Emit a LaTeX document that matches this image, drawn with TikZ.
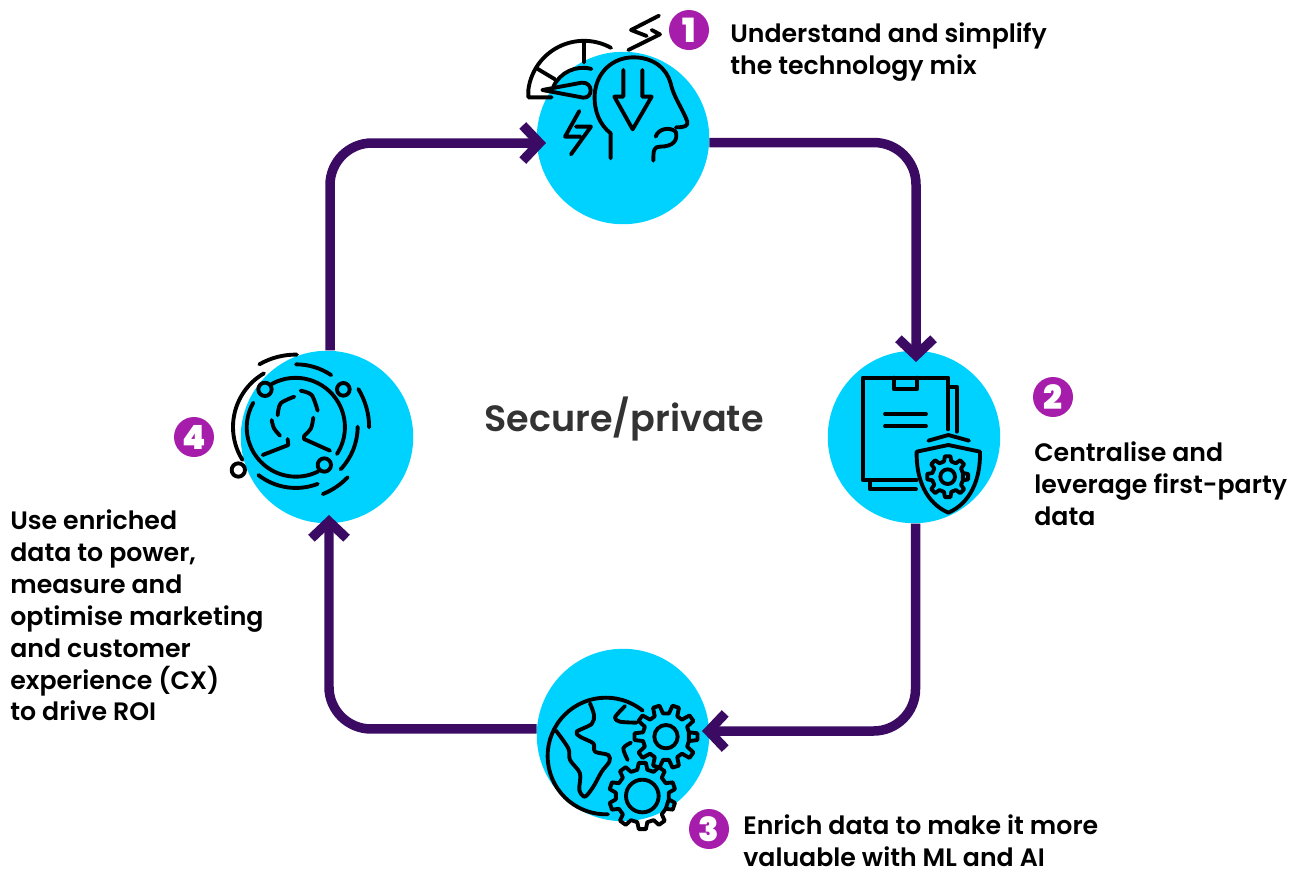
\documentclass[tikz,border=0pt]{standalone}
\usepackage{fontspec}
\setmainfont{Poppins}[UprightFont=* SemiBold]
\usetikzlibrary{arrows.meta}
\definecolor{blobcyan}{HTML}{00D2FF}
\definecolor{flowpurple}{HTML}{3B0A63}
\definecolor{badgepurple}{HTML}{A61CAB}
\tikzset{
  blob/.style={circle,fill=blobcyan,inner sep=0pt,minimum size=3.45cm},
  badge/.style={circle,fill=badgepurple,text=white,inner sep=0pt,minimum size=0.8cm,font=\fontsize{19}{19}\selectfont\bfseries},
  flowline/.style={draw=flowpurple,line width=5.4pt,rounded corners=0.84cm,-{Straight Barb[sharp,length=9.5pt,width=20pt]}},
  icon/.style={draw=black,line width=2.2pt,line cap=round,line join=round},
  tag/.style={anchor=north west,inner sep=0pt,align=left,text=black,font=\fontsize{14.35}{18.2}\selectfont},
  zoomed/.style={x=0.006667cm,y=-0.006667cm}
}
\newcommand{\gearicon}[6]{% x, y, root, tip, teeth, turn
  \pgfmathsetmacro{\gearstep}{360/#5}
  \draw[icon,shift={(#1,#2)}] ({#6-0.3*\gearstep}:#3)
    \foreach \k [evaluate=\k as \a using {#6+\k*\gearstep}] in {0,...,#5}
    {-- ({\a-0.3*\gearstep}:#3) -- ({\a-0.17*\gearstep}:#4) -- ({\a+0.17*\gearstep}:#4) -- ({\a+0.3*\gearstep}:#3)}
    -- cycle;
}
\begin{document}
\begin{tikzpicture}[x=0.02cm,y=-0.02cm]
\useasboundingbox (0,0) rectangle (1299,870);
\node[blob] (plan) at (623,138) {};
\node[blob] (store) at (914,437) {};
\node[blob] (enrich) at (623,735) {};
\node[blob] (power) at (327,437) {};
\coordinate (tipplan) at (546,143);
\coordinate (tipstore) at (916,362);
\coordinate (tipenrich) at (702,731);
\coordinate (tippower) at (329,515);
\draw[flowline] (plan.357) -| (tipstore);
\draw[flowline] (store.271.3) |- (tipenrich);
\draw[flowline] (enrich.176.7) -| (tippower);
\draw[flowline] (power.88.7) |- (tipplan);
\node[font=\fontsize{20.8}{22}\selectfont,text=black!80] (title) at (624,419) {Secure/private};
\node[badge] (one) at (689,30) {1};
\node[badge] (two) at (1053,397) {2};
\node[badge] (three) at (709,829) {3};
\node[badge] (four) at (194,437) {4};
\node[tag] (tagone) at (730,22) {Understand and simplify\\the technology mix};
\node[tag] (tagtwo) at (1034,441) {Centralise and\\leverage first-party\\data};
\node[tag] (tagthree) at (743,814) {Enrich data to make it more\\valuable with ML and AI};
\node[tag] (tagfour) at (10,509) {Use enriched\\data to power,\\measure and\\optimise marketing\\and customer\\experience (CX)\\to drive ROI};
% head and gauge
\begin{scope}[shift={(510,0)},zoomed]
\draw[icon] (447,47)--(363,90)--(410,108) (425,90)--(450,103)--(355,150);
\draw[icon] (125,292)--(55,292)--(55,270) arc[start angle=187,end angle=299,radius=168];
\draw[icon] (130,260) arc[start angle=205,end angle=285,radius=98];
\draw[icon] (222,125)--(222,187) (80,205)--(135,238);
\draw[icon] (97,270)--(215,248) .. controls (250,245) and (250,295) .. (220,293)--cycle;
\draw[icon] (208,333)--(165,410)--(212,410) (198,380)--(243,380)--(183,463);
\draw[icon] (302,475)--(302,400) .. controls (270,375) and (252,335) .. (254,285) .. controls (258,215) and (310,172) .. (370,172) .. controls (430,172) and (470,205) .. (482,250) .. controls (490,290) and (520,330) .. (532,365) .. controls (534,378) and (525,382) .. (498,382);
\draw[icon] (437,410) .. controls (445,385) and (480,380) .. (497,395) .. controls (505,420) and (490,440) .. (450,440) .. controls (432,440) and (430,450) .. (430,482);
\draw[icon] (340,210)--(340,290)--(313,290)--(368,388)--(425,290)--(397,290)--(397,210);
\end{scope}
% folder and shield
\begin{scope}[shift={(820,330)},zoomed]
\draw[icon] (385,298)--(385,143)--(128,143)--(128,450)--(290,450);
\draw[icon] (222,143)--(222,178)--(290,178)--(290,143);
\draw[icon] (195,252)--(318,252) (195,288)--(318,288);
\draw[icon] (387,170)--(410,170)--(410,305);
\draw[icon] (150,450)--(150,478)--(288,478);
\draw[icon] (325,332)--(385,315)--(447,332);
\draw[icon] (290,365)--(385,345)--(480,365) .. controls (482,450) and (450,520) .. (385,548) .. controls (320,520) and (288,450) .. (290,365)--cycle;
\gearicon{383}{440}{47}{62}{8}{0}
\draw[icon] (383,440) circle[radius=22];
\end{scope}
% globe and gears
\begin{scope}[shift={(530,640)},zoomed]
\draw[icon] (338,212) arc[start angle=-51,end angle=-272,radius=175];
\draw[icon] plot[smooth] coordinates {(180,190) (192,225) (185,252) (140,275) (150,290) (190,310) (195,335) (235,345) (238,365) (215,395) (190,440) (165,470) (148,450) (150,400) (120,360) (115,325) (78,272)};
\draw[icon] plot[smooth] coordinates {(285,198) (255,232) (270,245) (320,248)};
\draw[icon] plot[smooth] coordinates {(303,308) (280,325) (293,360)};
\gearicon{408}{290}{70}{95}{10}{0}
\draw[icon] (408,290) circle[radius=35];
\gearicon{337}{468}{80}{100}{10}{18}
\draw[icon] (337,468) circle[radius=49];
\end{scope}
% person and orbits
\begin{scope}[shift={(165,340)},zoomed]
\draw[icon] (265,188) arc[start angle=210,end angle=63,radius=148];
\draw[icon] (320,132) arc[start angle=-119,end angle=33,radius=148];
\draw[icon] (283,73) arc[start angle=-120,end angle=-89,radius=218];
\draw[icon] (297,100) arc[start angle=-120,end angle=-212,radius=186];
\draw[icon] (393,73) arc[start angle=-90,end angle=-56,radius=189];
\draw[icon] (580,147) arc[start angle=-31.5,end angle=0,radius=220];
\draw[icon] (578,260) arc[start angle=0,end angle=43.5,radius=186];
\draw[icon] (548,412) arc[start angle=44,end angle=68,radius=216];
\draw[icon] (280,405) arc[start angle=128,end angle=69,radius=183];
\draw[icon] (300,148) circle[radius=20] (535,148) circle[radius=19] (478,375) circle[radius=20] (220,390) circle[radius=20];
\draw[icon] plot[smooth] coordinates {(338,226) (347,190) (388,170)};
\draw[icon] plot[smooth] coordinates {(407,152) (440,165) (458,212)};
\draw[icon] plot[smooth] coordinates {(320,240) (327,265) (345,287)};
\draw[icon] plot[smooth] coordinates {(445,233) (438,265) (417,288)};
\draw[icon] (417,288)--(417,297)--(495,332) (368,297)--(370,315)--(293,345);
\end{scope}
\end{tikzpicture}
\end{document}
